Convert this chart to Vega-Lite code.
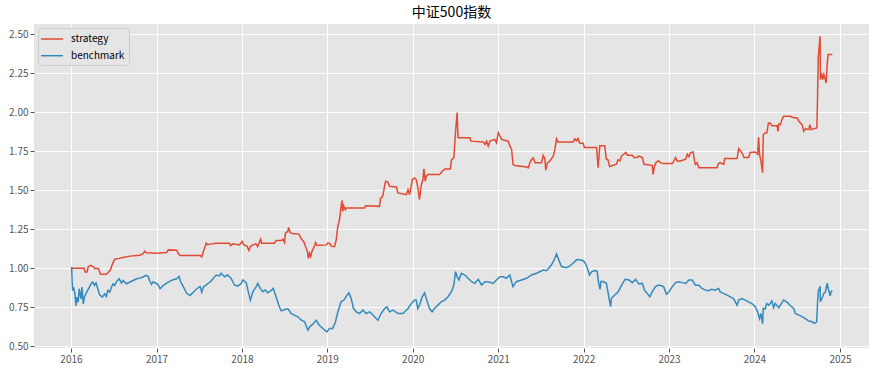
{
  "$schema": "https://vega.github.io/schema/vega-lite/v6.json",
  "width": 835,
  "height": 324,
  "autosize": {"type": "none"},
  "padding": {"left": 34, "top": 24, "right": 12, "bottom": 26},
  "background": "white",
  "title": {"text": "中证500指数", "fontSize": 14, "font": "Noto Sans CJK SC", "fontWeight": "normal", "color": "#000000", "offset": 4},
  "config": {
    "view": {"fill": "#E5E5E5", "stroke": null},
    "axis": {"domain": false, "tickColor": "#555555", "tickSize": 4, "labelColor": "#555555", "labelFontSize": 10, "labelFont": "Noto Sans CJK SC", "gridColor": "#FFFFFF", "gridWidth": 1, "title": null, "labelPadding": 2},
    "legend": {"orient": "top-left", "offset": 4, "fillColor": "#E5E5E5", "strokeColor": "#CCCCCC", "cornerRadius": 3, "padding": 4, "symbolType": "M-1.83,0H1.83", "symbolSize": 144, "symbolOffset": 3, "symbolStrokeWidth": 1.5, "labelFontSize": 10, "labelFont": "Noto Sans CJK SC", "labelColor": "#000000", "rowPadding": 4.7, "labelOffset": 12}
  },
  "encoding": {
    "x": {"field": "d", "type": "temporal", "scale": {"domain": [{"year": 2015, "month": 7, "date": 27}, {"year": 2025, "month": 5, "date": 5}]}, "axis": {"tickCount": {"interval": "year", "step": 1}, "format": "%Y", "labelFlush": false, "labelOverlap": false}},
    "y": {"field": "v", "type": "quantitative", "scale": {"domain": [0.489, 2.566], "nice": false, "zero": false}, "axis": {"values": [0.5, 0.75, 1, 1.25, 1.5, 1.75, 2, 2.25, 2.5], "format": ".2f"}}
  },
  "layer": [
    {
      "data": {"values": [
        {"d":"2016-01-04","v":1.00},{"d":"2016-02-26","v":1.00},{"d":"2016-03-02","v":0.976},{"d":"2016-03-10","v":0.976},{"d":"2016-03-15","v":1.01},{"d":"2016-03-25","v":1.019},{"d":"2016-04-06","v":1.01},{"d":"2016-04-11","v":0.998},{"d":"2016-04-27","v":0.998},{"d":"2016-05-03","v":0.975},{"d":"2016-05-06","v":0.961},{"d":"2016-05-31","v":0.961},{"d":"2016-06-07","v":0.972},{"d":"2016-06-17","v":0.987},{"d":"2016-06-27","v":1.03},{"d":"2016-07-06","v":1.058},{"d":"2016-07-20","v":1.062},{"d":"2016-08-11","v":1.069},{"d":"2016-09-09","v":1.078},{"d":"2016-10-21","v":1.084},{"d":"2016-11-04","v":1.093},{"d":"2016-11-11","v":1.11},{"d":"2016-11-18","v":1.099},{"d":"2017-01-03","v":1.097},{"d":"2017-02-13","v":1.101},{"d":"2017-02-20","v":1.118},{"d":"2017-03-28","v":1.116},{"d":"2017-04-04","v":1.095},{"d":"2017-04-11","v":1.082},{"d":"2017-07-06","v":1.082},{"d":"2017-07-13","v":1.073},{"d":"2017-07-20","v":1.106},{"d":"2017-07-28","v":1.142},{"d":"2017-08-01","v":1.161},{"d":"2017-08-08","v":1.15},{"d":"2017-08-15","v":1.155},{"d":"2017-09-13","v":1.161},{"d":"2017-11-08","v":1.161},{"d":"2017-11-13","v":1.146},{"d":"2017-11-23","v":1.157},{"d":"2017-12-21","v":1.15},{"d":"2018-01-02","v":1.172},{"d":"2018-01-09","v":1.15},{"d":"2018-01-22","v":1.144},{"d":"2018-01-31","v":1.114},{"d":"2018-02-06","v":1.139},{"d":"2018-02-17","v":1.15},{"d":"2018-03-02","v":1.157},{"d":"2018-03-09","v":1.139},{"d":"2018-03-22","v":1.187},{"d":"2018-03-26","v":1.161},{"d":"2018-05-20","v":1.161},{"d":"2018-05-27","v":1.178},{"d":"2018-06-18","v":1.178},{"d":"2018-06-25","v":1.187},{"d":"2018-07-02","v":1.165},{"d":"2018-07-06","v":1.225},{"d":"2018-07-16","v":1.236},{"d":"2018-07-20","v":1.262},{"d":"2018-07-26","v":1.23},{"d":"2018-08-07","v":1.221},{"d":"2018-09-02","v":1.219},{"d":"2018-09-12","v":1.187},{"d":"2018-09-22","v":1.172},{"d":"2018-09-30","v":1.139},{"d":"2018-10-08","v":1.107},{"d":"2018-10-12","v":1.064},{"d":"2018-10-17","v":1.097},{"d":"2018-10-22","v":1.075},{"d":"2018-10-27","v":1.107},{"d":"2018-11-08","v":1.146},{"d":"2018-11-12","v":1.165},{"d":"2018-11-18","v":1.146},{"d":"2018-12-28","v":1.15},{"d":"2019-01-04","v":1.163},{"d":"2019-01-13","v":1.157},{"d":"2019-01-18","v":1.142},{"d":"2019-02-01","v":1.139},{"d":"2019-02-08","v":1.182},{"d":"2019-02-15","v":1.268},{"d":"2019-02-22","v":1.311},{"d":"2019-03-01","v":1.397},{"d":"2019-03-05","v":1.435},{"d":"2019-03-08","v":1.365},{"d":"2019-03-12","v":1.401},{"d":"2019-03-19","v":1.375},{"d":"2019-03-23","v":1.386},{"d":"2019-06-09","v":1.386},{"d":"2019-06-13","v":1.401},{"d":"2019-08-12","v":1.397},{"d":"2019-08-17","v":1.45},{"d":"2019-08-26","v":1.461},{"d":"2019-09-03","v":1.526},{"d":"2019-09-07","v":1.558},{"d":"2019-09-17","v":1.552},{"d":"2019-09-24","v":1.526},{"d":"2019-10-23","v":1.521},{"d":"2019-10-30","v":1.483},{"d":"2019-12-05","v":1.472},{"d":"2019-12-12","v":1.504},{"d":"2019-12-19","v":1.472},{"d":"2019-12-31","v":1.569},{"d":"2020-01-09","v":1.579},{"d":"2020-01-16","v":1.569},{"d":"2020-01-23","v":1.521},{"d":"2020-01-30","v":1.44},{"d":"2020-02-07","v":1.536},{"d":"2020-02-14","v":1.569},{"d":"2020-02-18","v":1.637},{"d":"2020-02-24","v":1.558},{"d":"2020-02-28","v":1.59},{"d":"2020-03-06","v":1.601},{"d":"2020-04-25","v":1.601},{"d":"2020-05-07","v":1.622},{"d":"2020-05-17","v":1.637},{"d":"2020-06-10","v":1.637},{"d":"2020-06-15","v":1.697},{"d":"2020-06-25","v":1.708},{"d":"2020-07-02","v":1.869},{"d":"2020-07-09","v":1.998},{"d":"2020-07-13","v":1.837},{"d":"2020-09-02","v":1.837},{"d":"2020-09-06","v":1.815},{"d":"2020-10-29","v":1.809},{"d":"2020-11-05","v":1.794},{"d":"2020-11-12","v":1.815},{"d":"2020-11-19","v":1.783},{"d":"2020-11-26","v":1.815},{"d":"2020-12-17","v":1.826},{"d":"2020-12-24","v":1.805},{"d":"2021-01-01","v":1.869},{"d":"2021-01-08","v":1.848},{"d":"2021-01-15","v":1.826},{"d":"2021-02-12","v":1.815},{"d":"2021-02-20","v":1.783},{"d":"2021-02-27","v":1.762},{"d":"2021-03-05","v":1.665},{"d":"2021-03-13","v":1.659},{"d":"2021-05-02","v":1.65},{"d":"2021-05-09","v":1.644},{"d":"2021-05-16","v":1.676},{"d":"2021-05-23","v":1.697},{"d":"2021-05-31","v":1.708},{"d":"2021-06-07","v":1.676},{"d":"2021-07-05","v":1.676},{"d":"2021-07-12","v":1.723},{"d":"2021-07-19","v":1.702},{"d":"2021-07-23","v":1.629},{"d":"2021-07-30","v":1.676},{"d":"2021-08-09","v":1.687},{"d":"2021-08-24","v":1.719},{"d":"2021-08-31","v":1.762},{"d":"2021-09-07","v":1.83},{"d":"2021-09-14","v":1.809},{"d":"2021-11-17","v":1.809},{"d":"2021-11-24","v":1.83},{"d":"2021-12-01","v":1.817},{"d":"2021-12-08","v":1.832},{"d":"2021-12-15","v":1.802},{"d":"2021-12-30","v":1.802},{"d":"2022-01-04","v":1.774},{"d":"2022-02-25","v":1.774},{"d":"2022-03-04","v":1.645},{"d":"2022-03-11","v":1.785},{"d":"2022-04-01","v":1.785},{"d":"2022-04-08","v":1.699},{"d":"2022-04-15","v":1.695},{"d":"2022-04-22","v":1.652},{"d":"2022-05-07","v":1.66},{"d":"2022-05-21","v":1.667},{"d":"2022-05-28","v":1.695},{"d":"2022-06-05","v":1.688},{"d":"2022-06-12","v":1.72},{"d":"2022-06-22","v":1.731},{"d":"2022-06-30","v":1.742},{"d":"2022-07-07","v":1.725},{"d":"2022-07-28","v":1.725},{"d":"2022-08-04","v":1.71},{"d":"2022-08-18","v":1.71},{"d":"2022-08-25","v":1.72},{"d":"2022-09-09","v":1.71},{"d":"2022-09-16","v":1.667},{"d":"2022-10-21","v":1.66},{"d":"2022-10-25","v":1.602},{"d":"2022-10-31","v":1.656},{"d":"2022-11-08","v":1.682},{"d":"2022-11-18","v":1.688},{"d":"2022-11-25","v":1.677},{"d":"2022-12-09","v":1.671},{"d":"2023-01-15","v":1.671},{"d":"2023-01-22","v":1.688},{"d":"2023-01-29","v":1.71},{"d":"2023-02-05","v":1.688},{"d":"2023-02-19","v":1.688},{"d":"2023-03-13","v":1.699},{"d":"2023-03-20","v":1.731},{"d":"2023-03-27","v":1.716},{"d":"2023-04-03","v":1.742},{"d":"2023-04-14","v":1.746},{"d":"2023-04-20","v":1.688},{"d":"2023-04-24","v":1.667},{"d":"2023-05-01","v":1.677},{"d":"2023-05-08","v":1.645},{"d":"2023-07-25","v":1.645},{"d":"2023-07-30","v":1.667},{"d":"2023-08-06","v":1.677},{"d":"2023-08-23","v":1.667},{"d":"2023-08-27","v":1.703},{"d":"2023-10-19","v":1.703},{"d":"2023-10-26","v":1.768},{"d":"2023-11-02","v":1.753},{"d":"2023-11-08","v":1.742},{"d":"2023-11-18","v":1.71},{"d":"2023-12-07","v":1.71},{"d":"2023-12-14","v":1.742},{"d":"2024-01-05","v":1.746},{"d":"2024-01-15","v":1.731},{"d":"2024-01-19","v":1.839},{"d":"2024-01-23","v":1.731},{"d":"2024-01-30","v":1.677},{"d":"2024-02-05","v":1.613},{"d":"2024-02-08","v":1.857},{"d":"2024-02-16","v":1.867},{"d":"2024-02-23","v":1.867},{"d":"2024-03-01","v":1.93},{"d":"2024-03-09","v":1.931},{"d":"2024-03-16","v":1.914},{"d":"2024-04-07","v":1.914},{"d":"2024-04-11","v":1.878},{"d":"2024-04-14","v":1.925},{"d":"2024-04-21","v":1.921},{"d":"2024-04-28","v":1.953},{"d":"2024-05-05","v":1.974},{"d":"2024-06-03","v":1.974},{"d":"2024-06-10","v":1.968},{"d":"2024-07-02","v":1.964},{"d":"2024-07-09","v":1.942},{"d":"2024-07-23","v":1.921},{"d":"2024-07-30","v":1.878},{"d":"2024-08-07","v":1.895},{"d":"2024-08-21","v":1.889},{"d":"2024-08-25","v":1.921},{"d":"2024-08-31","v":1.889},{"d":"2024-09-24","v":1.899},{"d":"2024-09-27","v":2.10},{"d":"2024-09-30","v":2.35},{"d":"2024-10-08","v":2.488},{"d":"2024-10-09","v":2.21},{"d":"2024-10-14","v":2.253},{"d":"2024-10-19","v":2.21},{"d":"2024-10-24","v":2.242},{"d":"2024-10-28","v":2.221},{"d":"2024-11-03","v":2.188},{"d":"2024-11-07","v":2.306},{"d":"2024-11-11","v":2.37},{"d":"2024-11-29","v":2.37}
      ]},
      "mark": {"type": "line", "strokeWidth": 1.5},
      "encoding": {"color": {"datum": "strategy", "scale": {"domain": ["strategy", "benchmark"], "range": ["#E24A33", "#348ABD"]}, "legend": {"title": null}}}
    },
    {
      "data": {"values": [
        {"d":"2016-01-04","v":1.009},{"d":"2016-01-06","v":0.922},{"d":"2016-01-08","v":0.858},{"d":"2016-01-12","v":0.879},{"d":"2016-01-18","v":0.836},{"d":"2016-01-22","v":0.761},{"d":"2016-01-26","v":0.815},{"d":"2016-02-01","v":0.782},{"d":"2016-02-05","v":0.869},{"d":"2016-02-13","v":0.804},{"d":"2016-02-17","v":0.879},{"d":"2016-02-23","v":0.772},{"d":"2016-02-27","v":0.815},{"d":"2016-03-05","v":0.836},{"d":"2016-03-12","v":0.858},{"d":"2016-03-20","v":0.879},{"d":"2016-03-27","v":0.901},{"d":"2016-04-03","v":0.912},{"d":"2016-04-11","v":0.89},{"d":"2016-04-17","v":0.905},{"d":"2016-04-25","v":0.869},{"d":"2016-05-02","v":0.832},{"d":"2016-05-14","v":0.815},{"d":"2016-05-24","v":0.836},{"d":"2016-05-31","v":0.819},{"d":"2016-06-07","v":0.858},{"d":"2016-06-15","v":0.847},{"d":"2016-06-22","v":0.879},{"d":"2016-06-29","v":0.901},{"d":"2016-07-06","v":0.89},{"d":"2016-07-13","v":0.912},{"d":"2016-07-25","v":0.933},{"d":"2016-08-04","v":0.905},{"d":"2016-08-11","v":0.922},{"d":"2016-08-25","v":0.901},{"d":"2016-09-09","v":0.912},{"d":"2016-09-23","v":0.922},{"d":"2016-10-08","v":0.933},{"d":"2016-10-22","v":0.937},{"d":"2016-11-04","v":0.944},{"d":"2016-11-16","v":0.955},{"d":"2016-11-26","v":0.948},{"d":"2016-12-03","v":0.918},{"d":"2016-12-10","v":0.897},{"d":"2016-12-17","v":0.912},{"d":"2017-01-03","v":0.901},{"d":"2017-01-09","v":0.89},{"d":"2017-01-16","v":0.869},{"d":"2017-01-30","v":0.89},{"d":"2017-02-13","v":0.905},{"d":"2017-02-28","v":0.918},{"d":"2017-03-13","v":0.927},{"d":"2017-03-28","v":0.933},{"d":"2017-04-07","v":0.948},{"d":"2017-04-14","v":0.912},{"d":"2017-04-25","v":0.884},{"d":"2017-05-09","v":0.841},{"d":"2017-05-24","v":0.825},{"d":"2017-05-31","v":0.836},{"d":"2017-06-07","v":0.847},{"d":"2017-06-22","v":0.869},{"d":"2017-07-06","v":0.884},{"d":"2017-07-13","v":0.847},{"d":"2017-07-20","v":0.879},{"d":"2017-08-04","v":0.897},{"d":"2017-08-18","v":0.912},{"d":"2017-09-13","v":0.957},{"d":"2017-09-27","v":0.951},{"d":"2017-10-04","v":0.968},{"d":"2017-10-19","v":0.946},{"d":"2017-11-01","v":0.957},{"d":"2017-11-15","v":0.936},{"d":"2017-11-30","v":0.893},{"d":"2017-12-14","v":0.886},{"d":"2017-12-29","v":0.903},{"d":"2018-01-05","v":0.925},{"d":"2018-01-19","v":0.908},{"d":"2018-01-30","v":0.839},{"d":"2018-02-06","v":0.796},{"d":"2018-02-17","v":0.85},{"d":"2018-03-03","v":0.882},{"d":"2018-03-10","v":0.903},{"d":"2018-03-20","v":0.871},{"d":"2018-03-31","v":0.85},{"d":"2018-04-11","v":0.861},{"d":"2018-04-21","v":0.843},{"d":"2018-05-05","v":0.856},{"d":"2018-05-15","v":0.871},{"d":"2018-05-27","v":0.818},{"d":"2018-06-10","v":0.753},{"d":"2018-06-18","v":0.727},{"d":"2018-07-02","v":0.736},{"d":"2018-07-16","v":0.742},{"d":"2018-07-30","v":0.71},{"d":"2018-08-13","v":0.70},{"d":"2018-08-28","v":0.689},{"d":"2018-09-12","v":0.667},{"d":"2018-09-26","v":0.657},{"d":"2018-10-10","v":0.603},{"d":"2018-10-17","v":0.624},{"d":"2018-10-31","v":0.642},{"d":"2018-11-14","v":0.667},{"d":"2018-11-28","v":0.635},{"d":"2018-12-13","v":0.614},{"d":"2018-12-30","v":0.592},{"d":"2019-01-10","v":0.614},{"d":"2019-01-24","v":0.614},{"d":"2019-02-05","v":0.657},{"d":"2019-02-15","v":0.72},{"d":"2019-03-01","v":0.785},{"d":"2019-03-15","v":0.80},{"d":"2019-03-22","v":0.818},{"d":"2019-04-03","v":0.843},{"d":"2019-04-13","v":0.807},{"d":"2019-04-23","v":0.742},{"d":"2019-05-05","v":0.721},{"d":"2019-05-19","v":0.71},{"d":"2019-06-02","v":0.732},{"d":"2019-06-16","v":0.71},{"d":"2019-07-01","v":0.721},{"d":"2019-07-15","v":0.70},{"d":"2019-08-05","v":0.667},{"d":"2019-08-19","v":0.71},{"d":"2019-09-03","v":0.742},{"d":"2019-09-13","v":0.753},{"d":"2019-09-24","v":0.721},{"d":"2019-10-09","v":0.732},{"d":"2019-10-30","v":0.71},{"d":"2019-11-20","v":0.71},{"d":"2019-12-12","v":0.742},{"d":"2019-12-27","v":0.775},{"d":"2020-01-09","v":0.796},{"d":"2020-01-16","v":0.796},{"d":"2020-01-23","v":0.742},{"d":"2020-01-30","v":0.764},{"d":"2020-02-11","v":0.818},{"d":"2020-02-21","v":0.843},{"d":"2020-02-28","v":0.807},{"d":"2020-03-13","v":0.742},{"d":"2020-03-24","v":0.721},{"d":"2020-04-03","v":0.742},{"d":"2020-04-18","v":0.764},{"d":"2020-05-02","v":0.785},{"d":"2020-05-17","v":0.796},{"d":"2020-05-31","v":0.818},{"d":"2020-06-15","v":0.85},{"d":"2020-06-25","v":0.893},{"d":"2020-07-02","v":0.979},{"d":"2020-07-09","v":0.946},{"d":"2020-07-17","v":0.925},{"d":"2020-07-27","v":0.968},{"d":"2020-08-11","v":0.957},{"d":"2020-08-25","v":0.936},{"d":"2020-09-09","v":0.914},{"d":"2020-09-23","v":0.903},{"d":"2020-10-07","v":0.929},{"d":"2020-10-22","v":0.893},{"d":"2020-11-05","v":0.914},{"d":"2020-11-19","v":0.914},{"d":"2020-12-10","v":0.903},{"d":"2020-12-24","v":0.925},{"d":"2021-01-08","v":0.946},{"d":"2021-01-22","v":0.946},{"d":"2021-02-05","v":0.936},{"d":"2021-02-19","v":0.957},{"d":"2021-03-05","v":0.882},{"d":"2021-03-19","v":0.914},{"d":"2021-04-10","v":0.925},{"d":"2021-05-02","v":0.936},{"d":"2021-05-23","v":0.957},{"d":"2021-06-14","v":0.968},{"d":"2021-07-12","v":0.989},{"d":"2021-07-26","v":0.985},{"d":"2021-08-16","v":1.021},{"d":"2021-08-31","v":1.064},{"d":"2021-09-07","v":1.092},{"d":"2021-09-14","v":1.064},{"d":"2021-09-28","v":1.011},{"d":"2021-10-20","v":1.004},{"d":"2021-11-03","v":1.015},{"d":"2021-11-17","v":1.032},{"d":"2021-12-01","v":1.054},{"d":"2021-12-15","v":1.054},{"d":"2021-12-30","v":1.049},{"d":"2022-01-07","v":1.036},{"d":"2022-01-17","v":1.0},{"d":"2022-01-26","v":0.957},{"d":"2022-02-05","v":0.979},{"d":"2022-02-19","v":0.985},{"d":"2022-02-28","v":0.979},{"d":"2022-03-05","v":0.915},{"d":"2022-03-12","v":0.865},{"d":"2022-03-16","v":0.915},{"d":"2022-03-26","v":0.915},{"d":"2022-04-08","v":0.904},{"d":"2022-04-16","v":0.84},{"d":"2022-04-26","v":0.754},{"d":"2022-04-30","v":0.808},{"d":"2022-05-14","v":0.829},{"d":"2022-05-29","v":0.85},{"d":"2022-06-13","v":0.893},{"d":"2022-06-27","v":0.929},{"d":"2022-07-14","v":0.925},{"d":"2022-07-28","v":0.908},{"d":"2022-08-11","v":0.929},{"d":"2022-08-25","v":0.899},{"d":"2022-09-09","v":0.903},{"d":"2022-09-18","v":0.86},{"d":"2022-09-30","v":0.839},{"d":"2022-10-11","v":0.817},{"d":"2022-10-21","v":0.849},{"d":"2022-11-04","v":0.882},{"d":"2022-11-18","v":0.892},{"d":"2022-12-02","v":0.886},{"d":"2022-12-09","v":0.882},{"d":"2022-12-21","v":0.834},{"d":"2023-01-01","v":0.849},{"d":"2023-01-15","v":0.882},{"d":"2023-01-29","v":0.908},{"d":"2023-02-12","v":0.914},{"d":"2023-02-27","v":0.908},{"d":"2023-03-13","v":0.903},{"d":"2023-03-27","v":0.925},{"d":"2023-04-10","v":0.925},{"d":"2023-04-24","v":0.892},{"d":"2023-05-08","v":0.892},{"d":"2023-05-22","v":0.871},{"d":"2023-06-05","v":0.86},{"d":"2023-06-19","v":0.856},{"d":"2023-07-03","v":0.865},{"d":"2023-07-17","v":0.86},{"d":"2023-08-01","v":0.871},{"d":"2023-08-08","v":0.849},{"d":"2023-08-22","v":0.839},{"d":"2023-09-06","v":0.828},{"d":"2023-09-20","v":0.817},{"d":"2023-10-04","v":0.806},{"d":"2023-10-19","v":0.763},{"d":"2023-10-26","v":0.796},{"d":"2023-11-08","v":0.806},{"d":"2023-11-23","v":0.796},{"d":"2023-12-07","v":0.785},{"d":"2023-12-21","v":0.774},{"d":"2024-01-05","v":0.753},{"d":"2024-01-15","v":0.72},{"d":"2024-01-23","v":0.677},{"d":"2024-01-29","v":0.71},{"d":"2024-02-05","v":0.645},{"d":"2024-02-08","v":0.743},{"d":"2024-02-16","v":0.739},{"d":"2024-02-23","v":0.774},{"d":"2024-03-03","v":0.764},{"d":"2024-03-16","v":0.79},{"d":"2024-03-23","v":0.747},{"d":"2024-03-30","v":0.775},{"d":"2024-04-14","v":0.747},{"d":"2024-04-21","v":0.764},{"d":"2024-05-05","v":0.797},{"d":"2024-05-20","v":0.782},{"d":"2024-06-03","v":0.76},{"d":"2024-06-17","v":0.743},{"d":"2024-06-24","v":0.711},{"d":"2024-07-09","v":0.70},{"d":"2024-07-23","v":0.69},{"d":"2024-08-07","v":0.675},{"d":"2024-08-21","v":0.662},{"d":"2024-09-04","v":0.657},{"d":"2024-09-13","v":0.647},{"d":"2024-09-23","v":0.655},{"d":"2024-09-27","v":0.78},{"d":"2024-09-30","v":0.85},{"d":"2024-10-08","v":0.885},{"d":"2024-10-09","v":0.786},{"d":"2024-10-16","v":0.807},{"d":"2024-10-24","v":0.839},{"d":"2024-10-31","v":0.85},{"d":"2024-11-07","v":0.904},{"d":"2024-11-13","v":0.861},{"d":"2024-11-20","v":0.824},{"d":"2024-11-24","v":0.85},{"d":"2024-11-29","v":0.857}
      ]},
      "mark": {"type": "line", "strokeWidth": 1.5},
      "encoding": {"color": {"datum": "benchmark"}}
    }
  ]
}
